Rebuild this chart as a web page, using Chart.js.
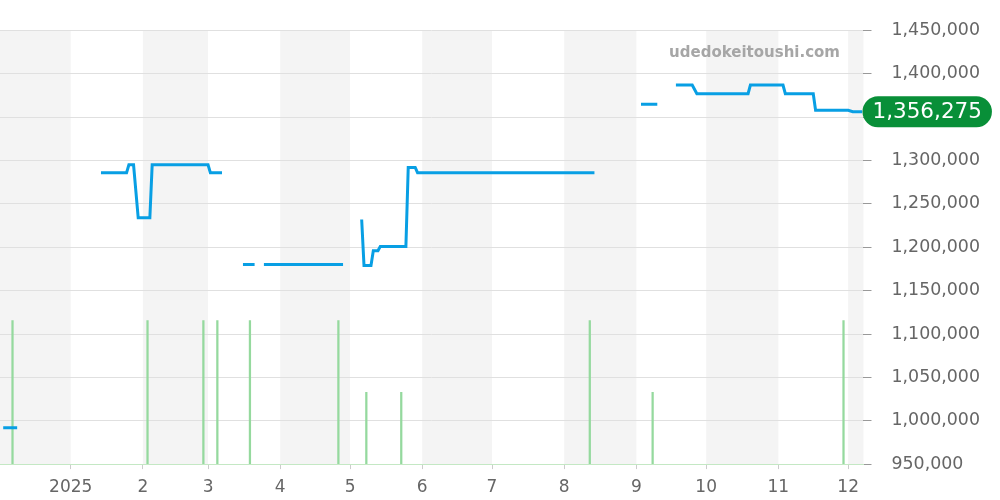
<!DOCTYPE html>
<html>
<head>
<meta charset="utf-8">
<script src="https://cdn.jsdelivr.net/npm/chart.js@4.4.0/dist/chart.umd.min.js"></script>
<style>
  html, body { margin: 0; padding: 0; background: #fff; }
  .chart-box { width: 1000px; height: 500px; position: relative; }
</style>
</head>
<body>
<div class="chart-box"><canvas id="priceChart"></canvas></div>
<script>
// PRICE DATA (null = no listing)
const priceDates = [
  "2024-12-03", "2024-12-09", "2024-12-20",
  "2025-01-14", "2025-01-25", "2025-01-26", "2025-01-28", "2025-01-30",
  "2025-02-04", "2025-02-05", "2025-03-01", "2025-03-02", "2025-03-07",
  "2025-03-10", "2025-03-16", "2025-03-21", "2025-03-23", "2025-03-25",
  "2025-04-28", "2025-05-02", "2025-05-06", "2025-05-07", "2025-05-10",
  "2025-05-11", "2025-05-13", "2025-05-14", "2025-05-25", "2025-05-26",
  "2025-05-29", "2025-05-30", "2025-08-14", "2025-08-25", "2025-09-03",
  "2025-09-10", "2025-09-14", "2025-09-18", "2025-09-25", "2025-09-27",
  "2025-10-19", "2025-10-20", "2025-11-03", "2025-11-04", "2025-11-16",
  "2025-11-17", "2025-12-01", "2025-12-03", "2025-12-07",
];
const priceValues = [
  992000, 992000, null,
  1286000, 1286000, 1295000, 1295000, 1234000,
  1234000, 1295000, 1295000, 1286000, 1286000,
  null, 1180000, 1180000, null, 1180000,
  1180000, null, 1232000, 1179000, 1179000,
  1196000, 1196000, 1201000, 1201000, 1292000,
  1292000, 1286000, 1286000, null, 1365000,
  1365000, null, 1387000, 1387000, 1377000,
  1377000, 1387000, 1387000, 1377000, 1377000,
  1358000, 1358000, 1356275, 1356275,
];

// VOLUME DATA
const volumeDates = [
  "2024-12-07", "2025-02-03", "2025-02-27", "2025-03-05", "2025-03-19",
  "2025-04-26", "2025-05-08", "2025-05-23", "2025-08-12", "2025-09-08",
  "2025-11-29",
];
const volumeValues = [2, 2, 2, 2, 2, 2, 1, 1, 2, 1, 2];

// X AXIS
const monthStarts = [
  "2025-01-01", "2025-02-01", "2025-03-01", "2025-04-01", "2025-05-01",
  "2025-06-01", "2025-07-01", "2025-08-01", "2025-09-01", "2025-10-01",
  "2025-11-01", "2025-12-01",
];
const monthLabels = ["2025", "2", "3", "4", "5", "6", "7", "8", "9", "10", "11", "12"];
const shadedMonths = [
  ["2024-12-01", "2025-01-01"], ["2025-02-01", "2025-03-01"],
  ["2025-04-01", "2025-05-01"], ["2025-06-01", "2025-07-01"],
  ["2025-08-01", "2025-09-01"], ["2025-10-01", "2025-11-01"],
  ["2025-12-01", "2026-01-01"],
];
const rangeStart = "2024-12-01T15:00:00Z";
const rangeEnd = "2025-12-07T14:00:00Z";

const siteName = "udedokeitoushi.com";

// days since 2025-01-01
const BASE = Date.parse("2025-01-01T00:00:00Z");
function toDay(s) {
  return (Date.parse(s) - BASE) / 864e5;
}

const pricePoints = priceDates.map((d, i) => ({ x: toDay(d), y: priceValues[i] }));
const volumePoints = volumeDates.map((d, i) => ({ x: toDay(d), y: volumeValues[i] }));
const tickDays = monthStarts.map(toDay);

Chart.defaults.font.family = "'DejaVu Sans', sans-serif";

// BACKGROUND MONTH BANDS
const bandPlugin = {
  id: "bands",
  beforeDraw(chart) {
    const { ctx, chartArea, scales } = chart;
    ctx.save();
    ctx.fillStyle = "#f4f4f4";
    shadedMonths.forEach(([a, b]) => {
      let x1 = Math.max(scales.x.getPixelForValue(toDay(a)), chartArea.left);
      let x2 = Math.min(scales.x.getPixelForValue(toDay(b)), chartArea.right);
      if (x2 > x1) ctx.fillRect(x1, chartArea.top, x2 - x1, chartArea.bottom - chartArea.top);
    });
    ctx.restore();
  },
};

// LAST PRICE BADGE + WATERMARK
const badgePlugin = {
  id: "badge",
  afterDraw(chart) {
    const { ctx, chartArea, scales } = chart;
    let last = null;
    for (let i = priceValues.length - 1; i >= 0; i--) {
      if (priceValues[i] !== null) { last = priceValues[i]; break; }
    }
    const y = scales.y.getPixelForValue(last);
    const text = last.toLocaleString("en-US");
    ctx.save();
    ctx.font = "21.5px 'DejaVu Sans'";
    const w = ctx.measureText(text).width + 20;
    const h = 31;
    const x = chartArea.right - 1;
    ctx.fillStyle = "#088f38";
    ctx.beginPath();
    ctx.roundRect(x, y - h / 2, w, h, h / 2);
    ctx.fill();
    ctx.fillStyle = "#fff";
    ctx.textBaseline = "middle";
    ctx.textAlign = "left";
    ctx.fillText(text, x + 10, y + 1);

    ctx.font = "bold 15px 'DejaVu Sans'";
    ctx.fillStyle = "#a6a6a6";
    ctx.textAlign = "right";
    ctx.textBaseline = "alphabetic";
    ctx.fillText(siteName, 840, 57);
    ctx.restore();
  },
};

const ctx = document.getElementById("priceChart").getContext("2d");

new Chart(ctx, {
  type: "line",
  data: {
    datasets: [
      {
        label: "Price",
        data: pricePoints,
        borderColor: "#089fe4",
        borderWidth: 3,
        pointRadius: 0,
        tension: 0,
        spanGaps: false,
        yAxisID: "y",
        order: 1,
      },
      {
        type: "bar",
        label: "Volume",
        data: volumePoints,
        backgroundColor: "#95d99e",
        barThickness: 1.6,
        yAxisID: "y2",
        order: 2,
      },
    ],
  },
  options: {
    responsive: true,
    maintainAspectRatio: false,
    animation: false,
    // tick padding is counted twice by chart.js, so trim the outer padding
    layout: { padding: { top: 30, right: 0, bottom: -6.5, left: 0 } },
    plugins: {
      legend: { display: false },
      tooltip: { enabled: false },
    },
    scales: {
      x: {
        type: "linear",
        offset: false,
        bounds: "data",
        min: toDay(rangeStart),
        max: toDay(rangeEnd),
        afterBuildTicks(scale) {
          scale.ticks = tickDays.map((v) => ({ value: v }));
        },
        grid: {
          offset: false,
          drawOnChartArea: false,
          drawTicks: true,
          tickLength: 5,
          tickColor: "#cccccc",
        },
        border: { color: "#c4e8c4", dash: [2, 1] },
        ticks: {
          autoSkip: false,
          maxRotation: 0,
          padding: 8.5,
          color: "#666",
          font: { size: 17 },
          callback: (value, index) => monthLabels[index],
        },
      },
      y: {
        position: "right",
        min: 950000,
        max: 1450000,
        grid: {
          color: "#e0e0e0",
          tickLength: 8,
          tickColor: "#999",
        },
        border: { display: false },
        ticks: {
          stepSize: 50000,
          padding: 20,
          color: "#666",
          font: { size: 17.4 },
          callback: (v) => v.toLocaleString("en-US"),
        },
      },
      y2: {
        display: false,
        min: 0,
        max: 6.04,
      },
    },
  },
  plugins: [bandPlugin, badgePlugin],
});
</script>
</body>
</html>
